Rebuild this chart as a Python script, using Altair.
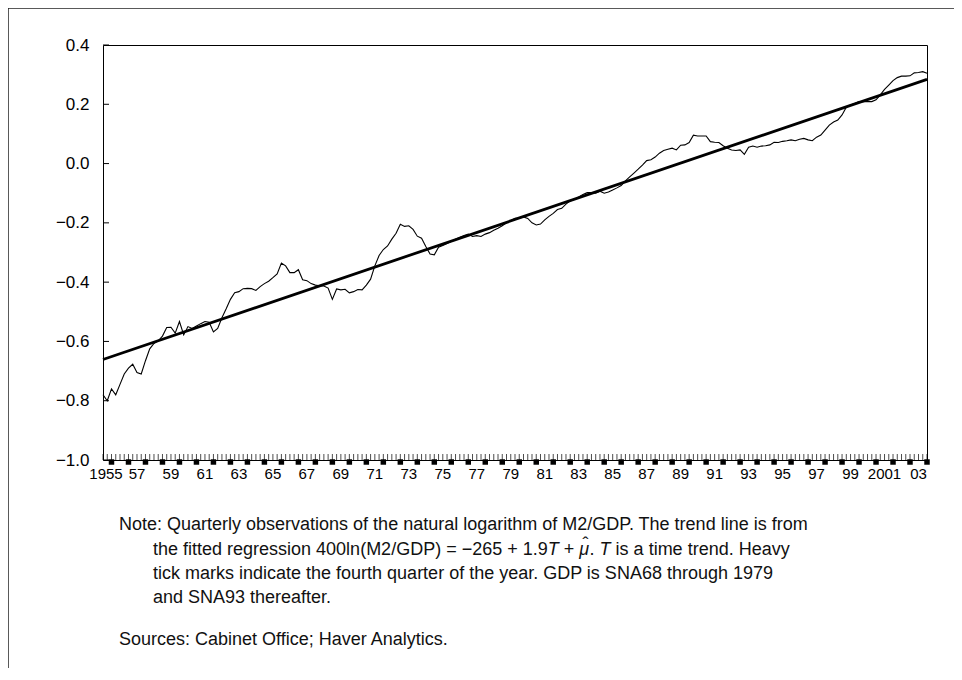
import altair as alt
import pandas as pd

# ln(M2/GDP), quarterly, 1955Q2 .. 2003Q4
m2_1955_59 = [-0.78, -0.80, -0.76, -0.78, -0.745, -0.71, -0.69, -0.677, -0.705, -0.71,
              -0.665, -0.625, -0.607, -0.598, -0.582, -0.553, -0.552, -0.572, -0.533]
m2_1960_64 = [-0.578, -0.55, -0.556, -0.548, -0.54, -0.533, -0.535, -0.568, -0.556, -0.52,
              -0.49, -0.458, -0.436, -0.432, -0.422, -0.421, -0.422, -0.428, -0.415, -0.405]
m2_1965_69 = [-0.397, -0.385, -0.372, -0.336, -0.345, -0.368, -0.368, -0.358, -0.392, -0.395,
              -0.405, -0.41, -0.412, -0.413, -0.42, -0.458, -0.423, -0.426, -0.424, -0.436]
m2_1970_74 = [-0.432, -0.425, -0.426, -0.41, -0.39, -0.345, -0.31, -0.29, -0.278, -0.255,
              -0.235, -0.205, -0.212, -0.21, -0.222, -0.245, -0.252, -0.28, -0.305, -0.308]
m2_1975_79 = [-0.282, -0.276, -0.27, -0.262, -0.255, -0.249, -0.243, -0.238, -0.246, -0.243,
              -0.246, -0.238, -0.233, -0.225, -0.218, -0.21, -0.2, -0.193, -0.185, -0.184]
m2_1980_84 = [-0.18, -0.185, -0.2, -0.207, -0.204, -0.19, -0.178, -0.168, -0.155, -0.151,
              -0.137, -0.126, -0.12, -0.113, -0.104, -0.098, -0.098, -0.1, -0.093, -0.1]
m2_1985_89 = [-0.096, -0.089, -0.082, -0.074, -0.058, -0.045, -0.032, -0.019, -0.005, 0.01,
              0.013, 0.022, 0.035, 0.044, 0.048, 0.052, 0.046, 0.062, 0.063, 0.071]
m2_1990_94 = [0.096, 0.093, 0.093, 0.093, 0.074, 0.072, 0.071, 0.06, 0.052, 0.046,
              0.044, 0.046, 0.031, 0.055, 0.059, 0.055, 0.059, 0.06, 0.063, 0.072]
m2_1995_99 = [0.071, 0.075, 0.077, 0.08, 0.077, 0.082, 0.085, 0.08, 0.077, 0.089,
              0.096, 0.113, 0.13, 0.14, 0.147, 0.164, 0.19, 0.198, 0.203, 0.209]
m2_2000_03 = [0.209, 0.209, 0.209, 0.215, 0.232, 0.25, 0.265, 0.28, 0.29, 0.295,
              0.295, 0.296, 0.306, 0.307, 0.31, 0.305]

trend_ends = [-0.661, 0.284]

y_ticks = [-1.0, -0.8, -0.6, -0.4, -0.2, 0.0, 0.2, 0.4]
label_years = list(range(1955, 2004, 2))
label_text = ["1955", "57", "59", "61", "63", "65", "67", "69", "71", "73", "75", "77",
              "79", "81", "83", "85", "87", "89", "91", "93", "95", "97", "99", "2001", "03"]

note_line1 = "Note: Quarterly observations of the natural logarithm of M2/GDP. The trend line is from"
note_line2 = [("the fitted regression 400ln(M2/GDP) = \u2212265 + 1.9", False), ("T", True),
              (" + ", False), ("\u03bc", True), (". ", False), ("T", True),
              (" is a time trend. Heavy", False)]
note_line3 = "tick marks indicate the fourth quarter of the year. GDP is SNA68 through 1979"
note_line4 = "and SNA93 thereafter."
sources = "Sources: Cabinet Office; Haver Analytics."

m2 = (m2_1955_59 + m2_1960_64 + m2_1965_69 + m2_1970_74 + m2_1975_79 +
      m2_1980_84 + m2_1985_89 + m2_1990_94 + m2_1995_99 + m2_2000_03)
n = len(m2)
idx = list(range(n))
quarter = [(i + 1) % 4 + 1 for i in idx]  # index 0 = 1955Q2
df = pd.DataFrame({"i": idx, "v": m2, "q": quarter})
q4 = df[df["q"] == 4]
trend = pd.DataFrame({"i": [0, n - 1], "v": trend_ends})
labs = pd.DataFrame({"pos": [(y - 1955) * 4 for y in label_years], "lab": label_text})
yt = pd.DataFrame({"v": y_ticks})

W, H = 824, 415
PL, PT, PR, PB = 95, 37, 27, 208
AXF = "Liberation Sans"

xs = alt.Scale(domain=[0, n - 1], nice=False, zero=False)
ys = alt.Scale(domain=[-1.0, 0.4], nice=False, zero=False)
X = alt.X("i:Q", scale=xs, axis=None)

series = alt.Chart(df).mark_line(color="black", strokeWidth=1.1).encode(
    x=X,
    y=alt.Y("v:Q", scale=ys, axis=alt.Axis(values=y_ticks, format=".1f", ticks=False,
                                           domain=False, grid=False, labelPadding=14,
                                           labelFontSize=17, labelFont=AXF,
                                           labelColor="black", labelFlush=False, title=None)),
)
trend_line = alt.Chart(trend).mark_line(color="black", strokeWidth=2.8).encode(
    x=X, y=alt.Y("v:Q", scale=ys))

ytick = alt.Chart(yt).mark_rule(color="black", strokeWidth=1).encode(
    y=alt.Y("v:Q", scale=ys), x=alt.value(0), x2=alt.value(6))

minor = alt.Chart(df).mark_tick(orient="vertical", size=6, thickness=1, color="black",
                                yOffset=-3).encode(x=X, y=alt.datum(-1.0))
heavy = alt.Chart(q4).mark_square(size=30, color="black", opacity=1, filled=True,
                                  yOffset=2).encode(x=X, y=alt.datum(-1.0))

xlab = alt.Chart(labs.iloc[1:]).mark_text(fontSize=15, font=AXF, dy=14,
                                          baseline="middle", color="black").encode(
    x=alt.X("pos:Q", scale=xs), y=alt.datum(-1.0), text="lab:N")
xlab0 = alt.Chart(labs.iloc[:1]).mark_text(fontSize=15, font=AXF, dy=14, dx=3,
                                           baseline="middle", color="black").encode(
    x=alt.X("pos:Q", scale=xs), y=alt.datum(-1.0), text="lab:N")

# Arial / Liberation Sans advance widths (per 1000 em) for laying out the mixed-style line
ARIAL = {' ': 278, '(': 333, ')': 333, '+': 584, '.': 278, '/': 278, '=': 584, '\u2212': 584,
         'D': 722, 'G': 778, 'H': 722, 'M': 833, 'P': 667, 'T': 611, '\u03bc': 577,
         'a': 556, 'c': 500, 'd': 556, 'e': 556, 'f': 278, 'g': 556, 'h': 556, 'i': 222,
         'l': 222, 'm': 833, 'n': 556, 'o': 556, 'r': 333, 's': 500, 't': 278, 'v': 500,
         'y': 500}


def text_width(s, size):
    return sum(ARIAL.get(c, 556) for c in s) * size / 1000.0


NOTE_FONT = "Liberation Sans"
NOTE_SIZE = 18
TXT = "#111"


def text_layer(s, x, y, italic=False, size=NOTE_SIZE):
    return alt.Chart(pd.DataFrame({"t": [s]})).mark_text(
        font=NOTE_FONT, fontSize=size, align="left", baseline="middle", color=TXT,
        fontStyle="italic" if italic else "normal").encode(
        text="t:N", x=alt.value(x), y=alt.value(y))


texts = [text_layer(note_line1, 16, 480)]
cx = 50
for seg, ital in note_line2:
    lead = len(seg) - len(seg.lstrip(" "))
    sx = cx + text_width(seg[:lead], NOTE_SIZE)
    texts.append(text_layer(seg.strip(" "), sx, 505, ital))
    if seg == "\u03bc":
        texts.append(text_layer("\u02c6", sx + 3.4, 500, False))
    cx += text_width(seg, NOTE_SIZE)
texts.append(text_layer(note_line3, 50, 529))
texts.append(text_layer(note_line4, 50, 553))
texts.append(text_layer(sources, 16, 595))

one = pd.DataFrame({"a": [0]})
border_left = alt.Chart(one).mark_rule(color="#222", strokeWidth=1.5).encode(
    x=alt.value(-PL), y=alt.value(-PT), y2=alt.value(H + PB))
border_top = alt.Chart(one).mark_rule(color="#222", strokeWidth=1.5).encode(
    x=alt.value(-PL), x2=alt.value(W + PR), y=alt.value(-PT))

chart = alt.layer(series, trend_line, ytick, minor, heavy, xlab, xlab0, *texts,
                  border_left, border_top).properties(
    width=W, height=H,
    padding={"left": PL, "top": PT, "right": PR, "bottom": PB},
    autosize=alt.AutoSizeParams(type="none"),
    background="white",
).configure_view(stroke="black", strokeWidth=1)

chart.save("out.html", embed_options={"renderer": "svg", "actions": False})
